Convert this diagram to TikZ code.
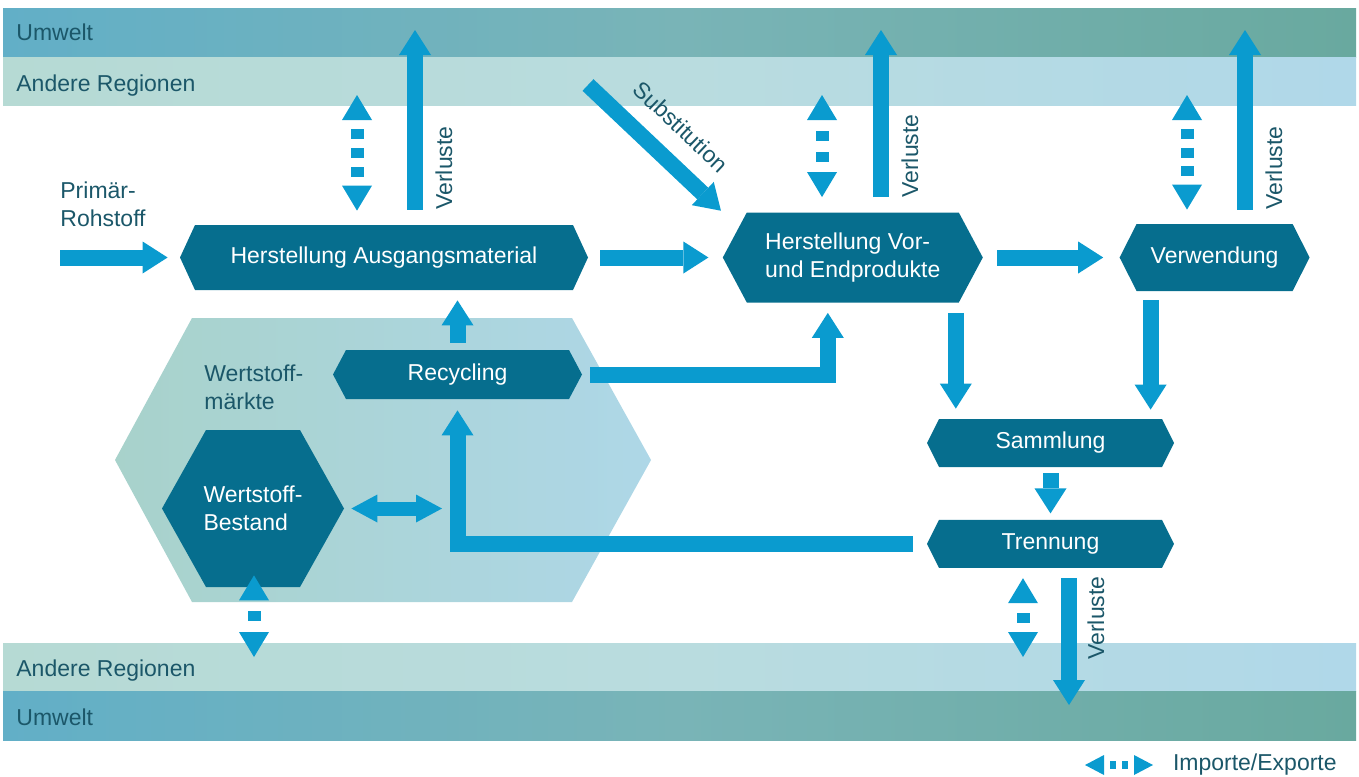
\documentclass[tikz,border=0pt]{standalone}
\usepackage{fontspec}
\setmainfont{Liberation Sans}
\usetikzlibrary{arrows.meta, positioning}
\definecolor{hexcol}{HTML}{066E8E}
\definecolor{arrcol}{HTML}{0A9BCF}
\definecolor{txtcol}{HTML}{1B5769}
\definecolor{umwL}{HTML}{62AFC7}
\definecolor{umwM}{HTML}{79B4B7}
\definecolor{umwR}{HTML}{69A99F}
\definecolor{regL}{HTML}{B6DAD4}
\definecolor{regM}{HTML}{B9DCDF}
\definecolor{regR}{HTML}{B0D8E9}
\definecolor{mktL}{HTML}{A8D2CB}
\definecolor{mktR}{HTML}{AED7E7}
\tikzset{
  hexbox/.style={
    rectangle, inner sep=0pt, text=white, align=center,
    path picture={
      \fill[hexcol] (path picture bounding box.west)
        -- ([xshift=#1]path picture bounding box.north west)
        -- ([xshift=-#1]path picture bounding box.north east)
        -- (path picture bounding box.east)
        -- ([xshift=-#1]path picture bounding box.south east)
        -- ([xshift=#1]path picture bounding box.south west) -- cycle;
    }
  },
  hexbox/.default=7pt,
  flow/.style  = {color=arrcol, line width=8pt,
                  >={Triangle[length=12.5pt,width=16pt,line width=0pt]}, ->},
  duo/.style   = {color=arrcol, line width=7pt,
                  >={Triangle[length=13pt,width=14pt,line width=0pt]}, <->},
  impex/.style = {color=arrcol, line width=6.5pt,
                  dash pattern=on 5pt off #1, dash phase=5pt,
                  >={Triangle[length=12.5pt,width=15pt,line width=0pt]}, <->},
  impex/.default=4.5pt,
  legimpex/.style = {color=arrcol, line width=4pt,
                  dash pattern=on 3pt off 3pt, dash phase=3pt,
                  >={Triangle[length=9.5pt,width=10pt,line width=0pt]}, <->},
  lbl/.style   = {inner sep=0pt, text=txtcol},
  verl/.style  = {lbl, rotate=90, anchor=north west},
}

\begin{document}
\begin{tikzpicture}[x=0.5pt, y=-0.5pt, font=\fontsize{11.5}{14}\selectfont]
  \useasboundingbox (0,0) rectangle (1359,776);

  % Bands
  \shade[left color=umwL, right color=umwR, middle color=umwM] (3,8) rectangle (1356,57);
  \shade[left color=regL, right color=regR, middle color=regM] (3,57) rectangle (1356,105);
  \shade[left color=regL, right color=regR, middle color=regM] (3,643) rectangle (1356,691);
  \shade[left color=umwL, right color=umwR, middle color=umwM] (3,691) rectangle (1356,740);
  \node[lbl, anchor=base west] (umwtop) at (16,40) {Umwelt};
  \node[lbl, anchor=base west] (regtop) at (16,91) {Andere Regionen};
  \node[lbl, anchor=base west] (regbot) at (16,676) {Andere Regionen};
  \node[lbl, anchor=base west] (umwbot) at (16,725) {Umwelt};

  % Wertstoffmaerkte
  \shade[left color=mktL, right color=mktR]
    (115,460) -- (192,318) -- (572,318) -- (651,460) -- (572,602) -- (192,602) -- cycle;
  \node[lbl, align=left, anchor=north west] (mkttxt) at (204,364) {Wertstoff-\\märkte};

  % Modules
  \node[hexbox=7.5pt, minimum width=204pt, minimum height=32.5pt] (ha) at (384,257.5) {Herstellung Ausgangsmaterial};
  \node[hexbox=12pt, minimum width=130pt, minimum height=45pt, align=left, right=67pt of ha] (hv) {Herstellung Vor-\\und Endprodukte};
  \node[hexbox=8.5pt, minimum width=95pt, minimum height=33.5pt, right=68pt of hv] (verw) {Verwendung};
  \node[hexbox=6.5pt, minimum width=124.5pt, minimum height=24.5pt] (rec) at (457.5,374.5) {Recycling};
  \node[hexbox=22pt, minimum width=91pt, minimum height=78.5pt, align=left] (bestand) at (253,508.5) {Wertstoff-\\Bestand};
  \node[hexbox=6pt, minimum width=123.5pt, minimum height=24pt] (samm) at (1050.5,443) {Sammlung};
  \node[hexbox=6pt, minimum width=123.5pt, minimum height=24pt, below=26pt of samm] (trenn) {Trennung};
  \node[lbl, align=left, anchor=north west] (rohtxt) at (60,181) {Primär-\\Rohstoff};

  % Coordinates in the bands
  \coordinate (roh) at (60,257.5);
  \coordinate (subst) at (588,85);
  \coordinate (umw1) at (415,30);
  \coordinate (umw2) at (881,30);
  \coordinate (umw3) at (1245,30);
  \coordinate (umw4) at (1069,705);
  \coordinate (reg1) at (357,95);
  \coordinate (reg2) at (822,95);
  \coordinate (reg3) at (1187,95);
  \coordinate (reg4) at (254,657);
  \coordinate (reg5) at (1023,657);
  \coordinate (mkt) at (442,508.5);

  % Arrows
  \draw[flow, shorten >=6pt] (roh) -- (ha);
  \draw[flow, shorten <=6pt, shorten >=7pt] (ha) -- (hv);
  \draw[flow, shorten <=7pt, shorten >=8pt] (hv) -- (verw);
  \draw[flow, shorten >=1pt] (subst) -- (hv.north west)
    node[lbl, pos=0.52, sloped, above=8.5pt] (substtxt) {Substitution};
  \draw[flow, shorten <=3.5pt, shorten >=5pt] (rec.north) -- (rec.north |- ha.south);
  \draw[flow, shorten <=4pt, shorten >=5pt] (rec.east) -| ([xshift=-12.5pt]hv.south);
  \draw[flow, shorten <=7pt, shorten >=5.5pt] (trenn.west) -| (rec.south);
  \draw[flow, shorten <=5pt, shorten >=5pt] ([xshift=51.5pt]hv.south) -- ([xshift=51.5pt]hv.south |- samm.north);
  \draw[flow, shorten <=4.5pt, shorten >=4.5pt] ([xshift=-32pt]verw.south) -- ([xshift=-32pt]verw.south |- samm.north);
  \draw[flow, shorten <=3pt, shorten >=3pt] (samm) -- (trenn);
  \draw[duo, shorten <=3.5pt] (bestand.east) -- (mkt);

  % Verluste
  \draw[flow, shorten <=7.5pt] (ha.north -| umw1) -- (umw1);
  \draw[flow, shorten <=7.5pt] (hv.north -| umw2) -- (umw2);
  \draw[flow, shorten <=7pt] (verw.north -| umw3) -- (umw3);
  \draw[flow, shorten <=5pt] (trenn.south -| umw4) -- (umw4);
  \node[verl] (verl1) at (435,210) {Verluste};
  \node[verl] (verl2) at (901,198) {Verluste};
  \node[verl] (verl3) at (1265,210) {Verluste};
  \node[verl] (verl4) at (1087,660) {Verluste};

  % Importe/Exporte
  \draw[impex=4.5pt, shorten >=7pt] (reg1) -- (ha.north -| reg1);
  \draw[impex=5.5pt, shorten >=7.5pt] (reg2) -- (hv.north -| reg2);
  \draw[impex=4.4pt, shorten >=7pt] (reg3) -- (verw.north -| reg3);
  \draw[impex=5.5pt, shorten <=-6pt] (bestand.south -| reg4) -- (reg4);
  \draw[impex=5pt, shorten <=5pt] (trenn.south -| reg5) -- (reg5);

  % Legend
  \coordinate (legL) at (1085,765);
  \coordinate (legR) at (1153,765);
  \draw[legimpex] (legL) -- (legR) node[lbl, right=8pt] (legtxt) {Importe/Exporte};

\end{tikzpicture}
\end{document}
